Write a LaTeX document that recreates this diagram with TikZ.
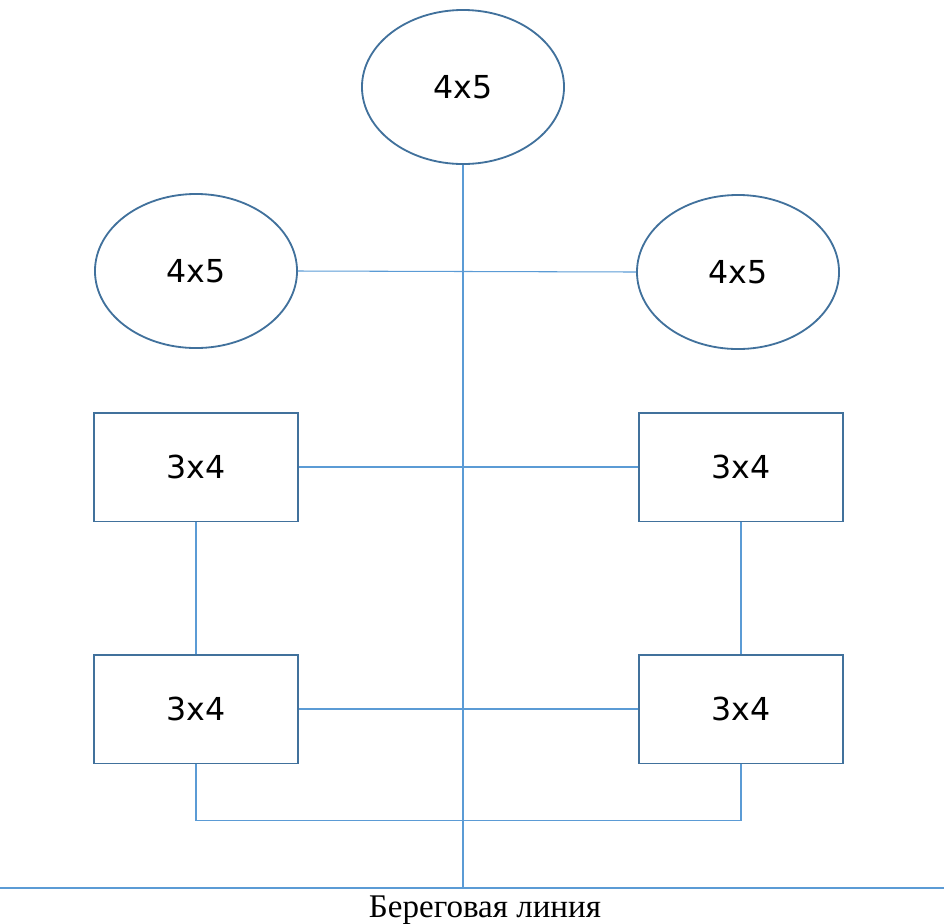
\documentclass[tikz,border=0pt]{standalone}
\usepackage{fontspec}
\setmainfont{Liberation Serif}
\newfontfamily\boxfont{DejaVu Sans}
\usetikzlibrary{shapes.geometric}
\definecolor{edgeblue}{HTML}{41719C}
\definecolor{linkblue}{HTML}{5B9BD5}
\tikzstyle{ov} = [ellipse,draw=edgeblue,line width=1.3pt,minimum width=5.05cm,minimum height=3.85cm,font=\boxfont\fontsize{22.5}{26}\selectfont]
\tikzstyle{bx} = [rectangle,draw=edgeblue,line width=1.3pt,minimum width=5.1cm,minimum height=2.72cm,font=\boxfont\fontsize{22.5}{26}\selectfont]
\tikzstyle{ln} = [draw=linkblue,line width=0.75pt]

\begin{document}
\begin{tikzpicture}[x=0.025cm,y=-0.025cm]
  \useasboundingbox (0,0) rectangle (944,923);
  \node[ov](top) at (463,87) {4x5};
  \node[ov](ol) at (196,271) {4x5};
  \node[ov](or) at (738,272) {4x5};
  \node[bx](lt) at (196,467) {3x4};
  \node[bx](rt) at (741,467) {3x4};
  \node[bx](lb) at (196,709) {3x4};
  \node[bx](rb) at (741,709) {3x4};
  \coordinate (sl) at (0,888);
  \coordinate (sr) at (944,888);
  \coordinate (sc) at (463,888);
  \draw[ln] (sl) -- (sr);
  \draw[ln] (top.south) -- (sc);
  \draw[ln] (ol.east) -- (or.west);
  \draw[ln] (lt.east) -- (rt.west);
  \draw[ln] (lb.east) -- (rb.west);
  \draw[ln] (lt.south) -- (lb.north);
  \draw[ln] (rt.south) -- (rb.north);
  \draw[ln] (lb.south) -- ++(0,56) -| (rb.south);
  \node[font=\fontsize{23.5}{27}\selectfont](shore) at (485,910) {Береговая линия};
\end{tikzpicture}
\end{document}
